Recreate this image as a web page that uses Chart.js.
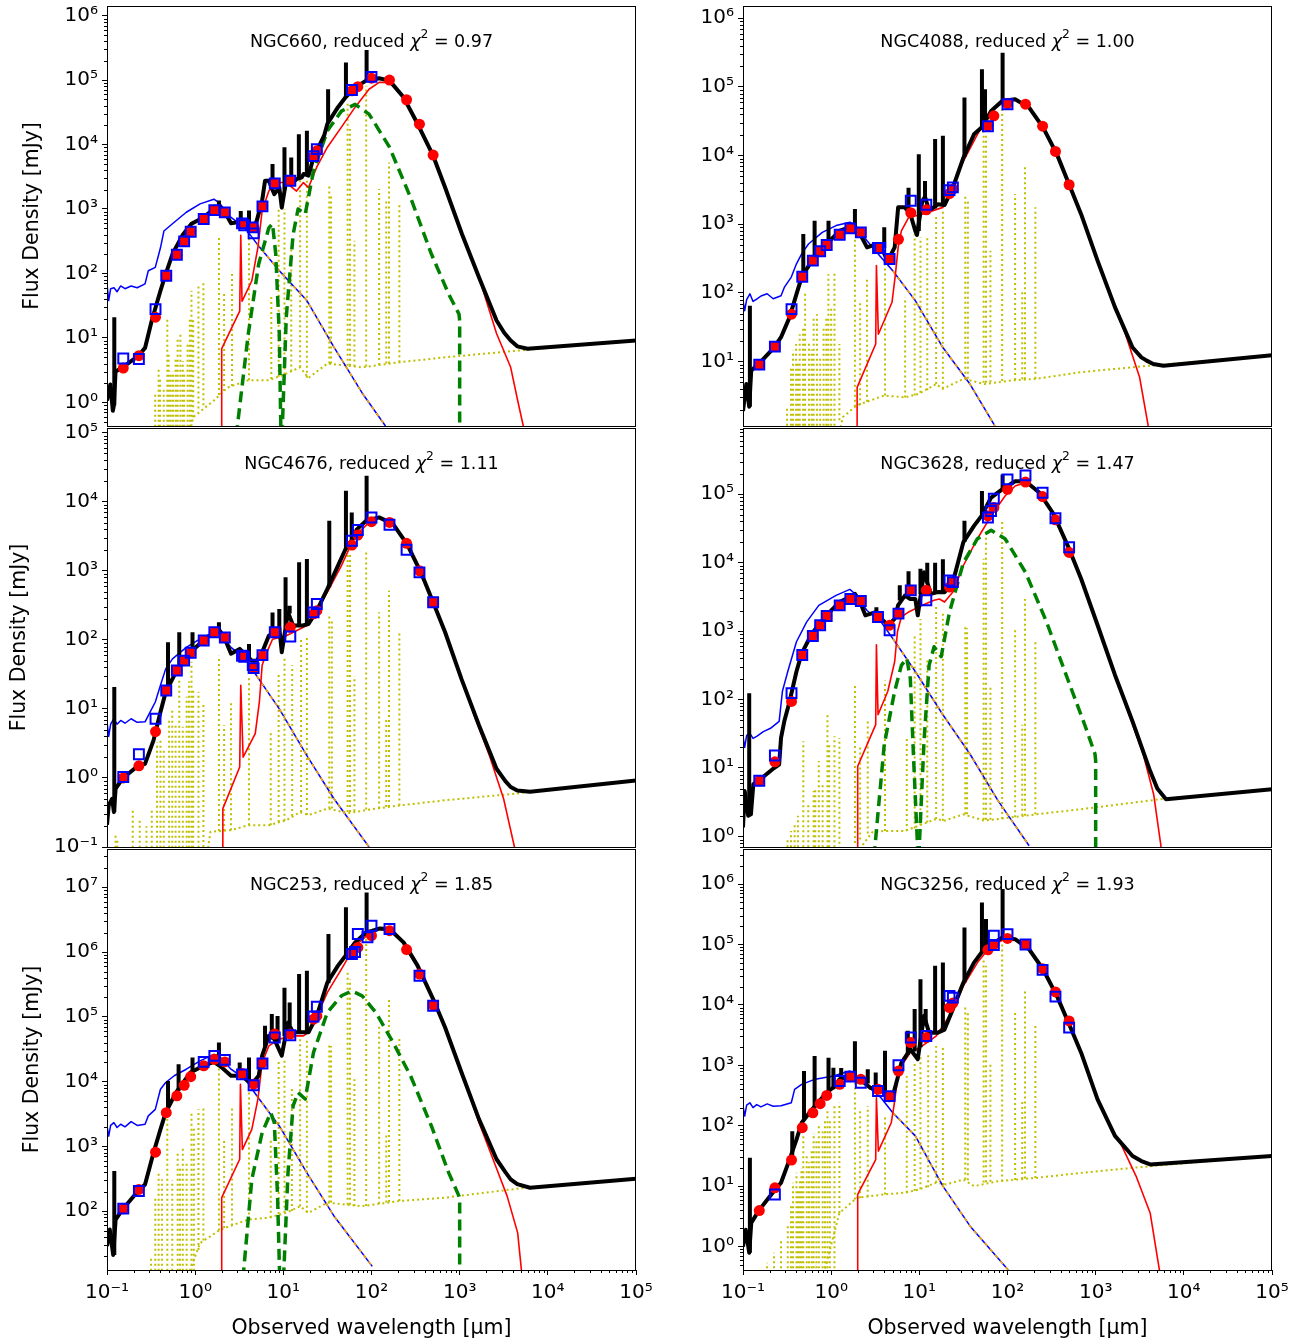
<!DOCTYPE html>
<html>
<head>
<meta charset="utf-8">
<script src="https://cdn.jsdelivr.net/npm/chart.js@4.4.1/dist/chart.umd.min.js"></script>
<style>
  body { margin: 0; background: #fff; width: 1309px; height: 1344px; position: relative; overflow: hidden; }
  canvas { position: absolute; }
</style>
</head>
<body>
<script>
// ---- shared values ----
const modelWl = [0.153, 0.23, 0.355, 0.47, 0.62, 0.75, 0.89, 1.25, 1.65, 2.17, 3.4, 4.6, 5.8, 8.0, 12, 22, 24, 60, 70, 100, 160, 250, 350, 500];
const xTickValues = [0.1, 1, 10, 100, 1e3, 1e4, 1e5];

// ---- NGC660 ----
const ngc660Total = [[0.1,1.07],[0.109,1.9],[0.1165,0.74],[0.1197,0.9],[0.125,3.0],[0.15,3.5],[0.225,5.2],[0.27,7],[0.322,18.6],[0.404,54],[0.463,98],[0.553,200],[0.724,400],[0.908,590],[1.24,740],[1.63,1000],[1.86,1100],[2.13,940],[2.55,600],[3.0,620],[3.6,640],[4.39,460],[5.0,660],[5.75,1350],[6.2,2750],[6.85,2750],[7.9,1700],[9.0,2150],[9.6,1050],[10.8,2800],[11.3,3100],[12.9,2600],[14.1,2900],[16.2,3100],[17.0,3500],[19.3,3300],[22,6300],[29,13700],[31.6,21000],[41.7,38000],[50.8,54000],[65.2,77000],[87,98000],[122,107000],[160,98000],[231,54000],[333,21000],[500,6700],[684,2150],[1064,405],[1655,87],[2620,18.6],[3200,12],[3790,9.1],[4500,7.4],[5880,6.8],[1e5,9.1]];
const ngc660TotalLines = [[0.121,0.9,21],[1.86,1000,1350],[3.29,630,930],[4.08,560,950],[7.54,2300,5000],[10.3,2000,9100],[12.3,2800,6300],[15.0,2900,14500],[18.5,3300,16300],[32.2,21000,72000],[51.3,54000,188000],[88,98000,293000]];
const ngc660Stars = [[0.1,69],[0.1045,38],[0.11,58],[0.12,60],[0.13,52],[0.143,64],[0.16,58],[0.1877,64],[0.22,60],[0.27,69],[0.294,110],[0.353,124],[0.404,250],[0.442,455],[0.553,590],[0.793,890],[1.137,1200],[1.63,1420],[1.86,1260],[2.55,740],[3.67,510],[5.0,290],[9.0,110],[18.5,38],[37.5,7.2],[78.3,1.4],[144,0.43]];
const ngc660StarsAtt = [[5.0,290],[9.0,110],[18.5,38],[37.5,7.2],[78.3,1.4],[144,0.43]];
const ngc660Dust = [[1.99,0.3],[2.0,6.8],[3.2,26],[3.29,390],[3.4,37],[4.39,77],[5.15,253],[5.75,940],[6.85,1900],[8.2,2570],[10.8,2570],[14.1,1900],[16.9,2570],[19.3,2150],[24,4500],[31.6,9100],[45.6,18600],[65.2,38000],[93.8,72000],[122,92000],[160,92000],[231,54000],[333,21000],[500,6700],[684,2150],[1064,405],[1655,87],[2620,11.7],[3790,3.5],[4550,1.07],[5580,0.3]];
const ngc660Agn1 = [[2.92,0.3],[4.0,11.5],[5.25,140],[6.85,510],[7.54,590],[8.2,200],[9.0,11.5],[9.4,0.3]];
const ngc660Agn2 = [[9.66,0.3],[10.8,21],[12.9,400],[14.7,1000],[17.7,830],[22,3900],[31.6,16300],[45.6,33000],[65.2,42000],[93.8,29700],[160,9100],[277,1510],[478,200],[750,48],[983,23.4],[1000,18.6],[1000,0.3]];
const ngc660NebCont = [[0.85,0.3],[0.95,0.59],[1.63,1.07],[2.33,1.7],[4.0,2.2],[6.85,2.2],[10.8,2.8],[15.5,3.5],[19.3,2.4],[31.6,4.0],[78.3,3.5],[210,4.2],[684,5],[5470,6.5],[1e5,9.1]];
const ngc660NebLines = [[0.352,0.1,1.43],[0.385,0.1,3.5],[0.4,0.1,2.5],[0.44,0.1,1.6],[0.483,0.1,21],[0.5,0.1,6],[0.528,0.1,3.0],[0.56,0.1,3],[0.6,0.1,5],[0.633,0.1,10.2],[0.68,0.1,12],[0.724,0.1,4.4],[0.75,0.1,3],[0.82,0.1,8],[0.87,0.1,20],[0.908,0.1,54],[0.95,0.59,21],[1.09,0.8,69],[1.24,0.9,73],[1.86,1.3,385],[2.13,1.5,48],[2.62,1.8,110],[4.08,2.2,408],[7.3,2.3,48],[8.85,2.5,1060],[10.3,2.7,1000],[12.3,3.0,270],[15.5,3.5,3480],[18.5,2.4,2750],[33.2,4.0,2440],[34.8,4.0,1610],[53.6,3.7,47700],[57,3.7,17400],[64,3.6,322],[87,3.6,81600],[122,3.8,2040],[147,4.0,1340],[158,4.0,5280],[207,4.2,1190]];
const ngc660Model = [3.4,5.3,21,92,195,314,444,698,962,885,598,519,1100,2500,2740,6470,8000,68000,79000,107000,100000,49500,20700,6870];
const ngc660Obs = [[0.153,4.8],[0.23,4.7],[0.355,28],[0.47,92],[0.62,195],[0.75,314],[0.89,444],[1.25,698],[1.65,962],[2.17,885],[3.4,598],[3.6,560],[4.5,519],[4.6,419],[5.8,1100],[8.0,2500],[12,2740],[22,6600],[24,8500],[60,70000],[100,112000]];

// ---- NGC4088 ----
const ngc4088Total = [[0.1,1.9],[0.109,4.7],[0.1176,2.2],[0.124,7.4],[0.15,9.2],[0.225,16],[0.27,22.6],[0.337,44],[0.404,96],[0.463,170],[0.605,295],[0.884,510],[1.24,800],[1.63,910],[2.13,720],[2.55,460],[3.2,510],[3.6,480],[4.39,295],[5.25,460],[5.75,1760],[6.85,1760],[7.9,1410],[9.0,800],[9.4,700],[10.8,2190],[11.6,2500],[12.9,1580],[16.2,1950],[19.3,1900],[24,3400],[31.6,9300],[41.7,20400],[50.8,25700],[65.2,44700],[87,62500],[122,66000],[176,50000],[253,25700],[363,10500],[500,3800],[684,1400],[1050,295],[1655,62],[2620,16],[3300,11.5],[3790,10.3],[4500,9.2],[5880,8.7],[1e5,12.3]];
const ngc4088TotalLines = [[0.1197,2.2,65],[0.483,200,720],[0.649,300,1120],[0.933,520,1120],[1.86,900,1660],[4.0,450,900],[7.54,1600,3400],[9.86,800,10500],[11.6,2200,4270],[15.1,1700,17400],[18.5,1900,19500],[32.5,9500,70000],[51.3,25700,181000],[55.6,28000,92500],[88,62500,316000]];
const ngc4088Stars = [[0.1,77],[0.1045,55],[0.11,80],[0.1197,97],[0.13,75],[0.143,81],[0.16,90],[0.1877,97],[0.22,82],[0.27,91],[0.294,120],[0.353,170],[0.404,265],[0.463,370],[0.553,515],[0.793,760],[1.137,955],[1.63,1070],[1.86,980],[2.55,575],[3.67,330],[5.0,210],[9.0,77],[18.5,16],[37.5,4.7],[72,1.15]];
const ngc4088StarsAtt = [[5.0,210],[9.0,77],[18.5,16],[37.5,4.7],[72,1.15]];
const ngc4088Dust = [[1.97,0.8],[1.97,4.2],[3.2,18],[3.26,250],[3.43,25],[4.9,73],[5.35,185],[5.75,460],[6.26,800],[7.54,1250],[10.8,1400],[18.5,1760],[31.6,8300],[45.6,20400],[65.2,44700],[93.8,62500],[122,66000],[176,50000],[253,25700],[363,10500],[500,3800],[684,1400],[1050,295],[1510,82],[2178,25],[3150,5.9],[4150,0.8]];
const ngc4088NebCont = [[1.2,0.8],[1.36,1.55],[1.95,2.3],[4.0,3.2],[6.9,3.0],[9.9,3.4],[15.5,4.7],[18.5,4.0],[31.8,5.6],[54.6,4.7],[112,5.3],[210,5.6],[676,7.0],[4100,8.7],[1e5,12.3]];
const ngc4088NebLines = [[0.316,0.5,2.2],[0.35,0.5,8],[0.369,0.5,14.5],[0.4,0.5,18],[0.42,0.5,10],[0.44,0.5,25],[0.48,0.5,30],[0.506,0.5,107],[0.56,0.5,20],[0.6,0.5,15],[0.633,0.5,44],[0.69,0.5,49],[0.75,0.5,12],[0.82,0.5,30],[0.88,0.5,44],[0.93,0.5,186],[1.0,0.5,60],[1.09,0.5,200],[1.24,1.4,18],[1.86,2.2,610],[2.13,2.3,77],[2.55,2.6,169],[4.08,3.2,263],[6.9,3.0,86],[8.85,3.2,720],[10.3,3.5,645],[12.3,3.8,645],[15.5,4.7,1330],[18.5,4.0,1570],[33.2,5.6,2750],[35.5,5.6,2200],[53.6,4.9,25700],[57,4.9,20600],[64,5.0,410],[87,5.2,56000],[122,5.4,2750],[147,5.5,107],[158,5.5,7500],[207,5.6,1760]];
const ngc4088Model = [9.0,16.5,49,172,295,403,498,703,870,760,450,311,603,1470,1620,2800,3240,27100,37900,57200,56000,26800,11500,3760];
const ngc4088Obs = [[0.153,9.0],[0.23,16.5],[0.355,58],[0.47,172],[0.62,295],[0.75,403],[0.89,498],[1.25,703],[1.65,870],[2.17,760],[3.4,450],[3.6,450],[4.6,311],[8.0,2200],[12,1920],[22,3140],[24,3440],[60,26800],[100,56000]];

// ---- NGC4676 ----
const ngc4676Total = [[0.1,0.21],[0.1045,0.40],[0.1145,0.5],[0.1197,0.32],[0.1253,0.7],[0.15,0.98],[0.225,1.5],[0.27,1.6],[0.337,3.5],[0.404,9],[0.463,17.5],[0.605,34],[0.884,66],[1.24,98],[1.63,129],[1.86,140],[2.13,110],[2.55,63],[3.2,74],[4.39,50],[5.0,50],[5.75,66],[6.85,115],[7.95,129],[9.0,150],[9.6,66],[11.3,250],[12.9,161],[16.2,161],[19.3,170],[24,265],[31.6,546],[41.7,1190],[50.8,2070],[61.3,2880],[68.2,3980],[87,5310],[122,5930],[176,4750],[253,2440],[363,950],[500,350],[684,129],[1050,27],[1655,5.8],[2620,1.36],[3300,0.9],[3790,0.74],[4500,0.66],[6280,0.63],[1e5,0.92]];
const ngc4676TotalLines = [[0.121,0.32,20.7],[0.492,20,92],[0.66,40,129],[0.933,70,129],[1.86,135,180],[4.08,55,87],[7.54,120,250],[9.0,140,280],[10.6,150,805],[11.8,240,313],[15.1,161,1330],[18.5,165,1480],[33.2,580,5310],[51.3,2070,14400],[59.7,2800,7000],[88,5310,23800]];
const ngc4676Stars = [[0.1,6.5],[0.1045,4.0],[0.11,6.0],[0.1197,7.2],[0.13,6.0],[0.143,6.8],[0.16,6.2],[0.1877,7.2],[0.22,6.4],[0.27,6.5],[0.308,9],[0.353,12.6],[0.404,22],[0.463,38],[0.553,53],[0.793,78],[1.137,103],[1.63,129],[1.86,122],[2.55,78],[3.67,53],[5.0,30],[9.0,10],[18.5,2.1],[37.5,0.5],[93.8,0.1]];
const ngc4676StarsAtt = [[5.0,30],[9.0,10],[18.5,2.1],[37.5,0.5],[93.8,0.1]];
const ngc4676Dust = [[2.04,0.05],[2.06,0.36],[3.2,1.44],[3.29,22],[3.5,2.0],[4.8,4.4],[5.35,12.6],[5.75,43],[6.26,59],[7.54,102],[10.8,115],[18.5,161],[31.6,490],[45.6,1190],[65.2,3240],[93.8,5000],[122,5800],[176,4750],[253,2440],[363,950],[500,350],[684,129],[1050,27],[1510,7.2],[2178,2.1],[3150,0.5],[4350,0.08]];
const ngc4676NebCont = [[1.3,0.05],[1.49,0.166],[2.55,0.175],[4.0,0.207],[6.85,0.207],[10.8,0.244],[15.5,0.32],[19.3,0.29],[31.6,0.36],[54.6,0.31],[112,0.36],[210,0.4],[684,0.475],[4150,0.59],[6280,0.63],[1e5,0.92]];
const ngc4676NebLines = [[0.125,0.05,0.15],[0.131,0.05,0.13],[0.196,0.05,0.36],[0.235,0.05,0.24],[0.28,0.05,0.2],[0.322,0.05,0.36],[0.369,0.05,3.3],[0.404,0.05,3.7],[0.44,0.05,2.5],[0.506,0.05,7.2],[0.55,0.05,10],[0.6,0.05,6],[0.66,0.05,27],[0.724,0.05,5.5],[0.8,0.05,15],[0.85,0.05,25],[0.908,0.05,48],[0.95,0.05,19.5],[1.09,0.05,17.5],[1.24,0.1,12.6],[1.86,0.17,59],[2.13,0.17,5.8],[2.55,0.175,12.6],[4.08,0.207,30],[7.2,0.207,4.6],[8.85,0.23,32],[10.3,0.24,59],[12.6,0.28,43],[15.9,0.32,103],[18.5,0.29,115],[33.2,0.36,224],[35.5,0.36,200],[53.6,0.32,1950],[57,0.32,1860],[64,0.33,30],[87,0.35,1950],[122,0.36,251],[147,0.38,7.2],[158,0.38,516],[207,0.4,129]];
const ngc4676Model = [1.0,1.5,4.7,18.5,36,50,65,98,129,108,59,39,59,129,152,238,265,2360,3300,5140,5020,2500,1000,350];
const ngc4676Obs = [[0.153,1.03],[0.23,2.2],[0.355,7.2],[0.47,18.5],[0.62,36],[0.75,50],[0.89,65],[1.25,98],[1.65,129],[2.17,108],[3.4,59],[3.6,57],[4.5,43],[4.6,39],[5.8,60],[8.0,129],[12,112],[22,250],[24,330],[60,2730],[70,3890],[100,5930],[160,4640],[250,2020],[350,950],[500,350]];

// ---- NGC3628 ----
const ngc3628Total = [[0.1,1.35],[0.1045,4.6],[0.1145,2.0],[0.123,2.1],[0.131,5.8],[0.15,6.5],[0.225,10],[0.257,11.2],[0.27,27.5],[0.294,48],[0.337,93],[0.404,257],[0.463,473],[0.605,922],[0.884,1700],[1.24,2660],[1.63,3160],[1.86,3500],[2.13,2660],[2.44,1700],[3.2,1900],[3.4,1700],[4.39,1220],[5.25,1510],[5.75,2400],[6.85,3300],[7.9,2950],[9.0,2950],[9.6,1700],[11.3,7240],[13.5,3500],[16.2,3720],[19.3,3700],[24,5200],[31.6,20000],[41.7,34500],[50.8,48400],[65.2,89600],[87,118000],[122,155000],[160,155000],[231,105000],[333,51500],[500,15900],[684,5820],[1050,1230],[1655,229],[2620,48],[4150,9],[5000,5],[6280,3.5],[1e5,4.9]];
const ngc3628TotalLines = [[0.1176,2.0,124],[3.26,1800,2240],[6.0,2800,4700],[7.54,3200,7500],[10.3,3500,8130],[12.3,5000,10000],[15.1,3600,10000],[18.5,3700,11200],[32.5,20000,41000],[51.3,48400,112000],[88,118000,195000]];
const ngc3628Stars = [[0.1,29],[0.1045,20],[0.11,30],[0.1197,32],[0.13,27],[0.143,29],[0.17,34],[0.205,38],[0.257,48],[0.28,132],[0.322,257],[0.404,700],[0.528,1365],[0.724,2380],[1.137,3330],[1.63,4070],[1.86,3520],[2.55,2000],[3.67,1365],[5.0,780],[9.0,257],[18.5,60],[37.5,16],[78.3,3.3],[176,0.73]];
const ngc3628StarsAtt = [[5.0,780],[9.0,257],[18.5,60],[37.5,16],[78.3,3.3],[176,0.73]];
const ngc3628Dust = [[2.0,0.5],[2.0,10.6],[3.2,43],[3.26,630],[3.4,60],[4.39,132],[5.25,357],[5.65,980],[6.26,1620],[7.54,1900],[10.8,2380],[14.7,2820],[16.9,2950],[19.3,2660],[24,3720],[31.6,9100],[45.6,22400],[65.2,48400],[93.8,94500],[122,132000],[160,148000],[231,105000],[333,51500],[500,15900],[684,5820],[1050,1230],[1655,229],[2390,60],[3456,16],[4550,4.1],[5730,0.5]];
const ngc3628Agn1 = [[3.06,0.5],[4.0,22],[5.25,132],[6.26,316],[7.2,400],[7.9,204],[8.6,14],[9.66,0.5]];
const ngc3628Agn2 = [[9.86,0.5],[11.3,24.5],[12.9,316],[14.7,590],[17.7,424],[22,1900],[31.6,10000],[45.6,22400],[65.2,29800],[93.8,22400],[160,7240],[277,1365],[478,204],[750,43],[983,16],[1000,12.6],[1000,0.5]];
const ngc3628NebCont = [[1.8,0.5],[2.92,1.15],[4.0,1.2],[6.85,1.2],[10.8,1.5],[15.5,1.8],[19.3,1.7],[31.6,2.1],[54.6,1.7],[112,1.9],[210,2.1],[684,2.5],[5470,3.5],[1e5,4.9]];
const ngc3628NebLines = [[0.32,0.3,0.9],[0.35,0.3,1.2],[0.385,0.3,1.5],[0.42,0.3,2.0],[0.483,0.3,24.5],[0.55,0.3,3],[0.633,0.3,4.6],[0.66,0.3,5.0],[0.724,0.3,12.6],[0.8,0.3,6],[0.908,0.3,63],[0.95,0.3,22],[1.09,0.3,29],[1.24,0.4,27.5],[1.86,0.8,163],[2.13,0.9,22],[2.6,1.1,50],[4.08,1.2,190],[7.2,1.2,29],[8.85,1.3,920],[10.3,1.45,1510],[12.3,1.6,400],[15.5,1.8,2380],[18.5,1.7,1900],[33.2,2.1,1220],[34.8,2.1,1100],[53.6,1.75,11400],[57,1.75,27600],[64,1.75,164],[87,1.8,43400],[122,1.9,1100],[147,2.0,43],[158,2.0,2950],[207,2.1,700]];
const ngc3628Model = [6.5,12.3,94,447,850,1220,1660,2380,2950,2750,1610,1220,1800,3940,3940,4400,5200,48400,64000,118000,151000,92500,42400,14100];
const ngc3628Obs = [[0.153,6.5],[0.23,15.2],[0.355,124],[0.47,447],[0.62,850],[0.75,1220],[0.89,1660],[1.25,2380],[1.65,2950],[2.17,2750],[3.4,1610],[4.6,1030],[5.8,1800],[8.0,3940],[12,2820],[22,5500],[24,5200],[60,45700],[65,57000],[70,86500],[100,165000],[160,189000],[250,105000],[350,44700],[500,16800]];

// ---- NGC253 ----
const ngc253Total = [[0.1,28.8],[0.1075,52],[0.1176,21],[0.1253,74],[0.15,106],[0.225,204],[0.27,257],[0.337,794],[0.404,1830],[0.463,3310],[0.605,6760],[0.884,13800],[1.24,17500],[1.63,20100],[1.95,17000],[2.55,12300],[3.35,12300],[4.39,9100],[5.25,12300],[5.75,25100],[6.85,50800],[7.9,45200],[9.6,25100],[11.3,81300],[12.9,57500],[16.2,57500],[19.3,57500],[24,103000],[31.6,339000],[41.7,617000],[50.8,877000],[65.2,1.41e6],[87,2.0e6],[122,2.3e6],[160,2.27e6],[231,1.41e6],[333,617000],[500,188000],[684,68400],[1050,13800],[1655,2630],[2620,631],[3300,400],[3790,309],[4500,260],[6280,229],[1e5,316]];
const ngc253TotalLines = [[0.121,21,417],[0.492,3500,10200],[0.649,7200,18500],[0.933,14000,23500],[1.86,19000,40000],[3.2,12300,19700],[4.08,10000,23500],[6.2,35000,72400],[7.4,48000,110000],[8.6,40000,103000],[10.3,50000,282000],[11.8,75000,166000],[15.1,57500,457000],[18.5,57500,513000],[32.5,330000,1.9e6],[51.3,877000,4.9e6],[88,2.0e6,8.3e6]];
const ngc253Stars = [[0.1,2060],[0.1045,1440],[0.11,2100],[0.1197,2320],[0.13,1950],[0.143,2190],[0.16,2000],[0.1877,2400],[0.22,2100],[0.27,2190],[0.294,2950],[0.353,3720],[0.404,7590],[0.463,9660],[0.578,12300],[0.793,15500],[1.137,20900],[1.63,26300],[1.86,25100],[2.55,15500],[3.67,11000],[5.0,6030],[9.0,2060],[18.5,390],[37.5,84],[102,14]];
const ngc253StarsAtt = [[5.0,6030],[9.0,2060],[18.5,390],[37.5,84],[102,14]];
const ngc253Dust = [[2.0,5],[2.0,161],[3.2,631],[3.26,9100],[3.43,891],[4.39,1830],[5.15,5370],[5.75,19500],[6.85,35500],[9.0,45200],[12.9,50800],[16.9,50800],[19.3,57500],[24,103000],[31.6,238000],[45.6,546000],[65.2,1.26e6],[93.8,1.9e6],[122,2.27e6],[176,2.05e6],[231,1.41e6],[333,617000],[500,188000],[684,68400],[1050,13800],[1655,2340],[2390,631],[3456,170],[4550,46],[5360,5]];
const ngc253Agn1 = [[3.35,5],[4.39,309],[5.75,1620],[7.2,3310],[7.9,2320],[8.6,170],[9.2,5]];
const ngc253Agn2 = [[9.86,5],[11.3,392],[12.9,4200],[14.7,6760],[17.7,5370],[22,28200],[31.6,117000],[45.6,211000],[59.7,251000],[78.3,211000],[112,117000],[176,40000],[277,12300],[478,2060],[750,392],[983,170],[1000,150],[1000,5]];
const ngc253NebCont = [[0.87,12],[1.137,32],[1.95,52],[4.0,74],[6.85,79],[10.8,94],[15.5,119],[19.3,94],[31.6,135],[78.3,119],[210,143],[684,161],[5470,229],[1e5,316]];
const ngc253NebLines = [[0.316,10,20],[0.353,10,170],[0.385,10,417],[0.42,10,309],[0.483,10,2630],[0.55,10,300],[0.633,10,794],[0.673,10,500],[0.724,10,1000],[0.8,10,600],[0.908,10,3310],[0.967,10,2000],[1.09,25,3720],[1.24,35,4200],[1.86,50,17500],[2.13,55,1290],[2.62,60,3980],[4.08,74,7590],[7.2,79,1290],[8.85,90,22100],[10.3,94,22100],[12.5,100,8510],[15.5,119,50800],[18.5,94,45200],[33.2,135,40000],[34.8,135,35500],[53.6,125,485000],[57,125,380000],[64,120,10900],[87,120,2.3e6],[122,130,72400],[147,135,1580],[158,138,186000],[207,143,45200]];
const ngc253Model = [109,216,813,3310,6030,8770,11900,17500,22100,20100,13300,9100,19500,54000,54000,92000,103000,933000,1.18e6,1.79e6,2.14e6,1.09e6,457000,151000];
const ngc253Obs = [[0.153,109],[0.23,204],[1.25,20100],[1.65,24900],[2.17,21600],[3.4,12900],[4.6,8770],[5.8,19000],[8.0,47900],[12,52000],[22,101000],[24,143000],[60,933000],[65,1.0e6],[70,1.9e6],[90,1.69e6],[100,2.55e6],[160,2.27e6],[350,431000],[500,148000]];

// ---- NGC3256 ----
const ngc3256Total = [[0.1,1.0],[0.1075,1.9],[0.1176,0.79],[0.124,2.45],[0.15,3.9],[0.225,8.3],[0.27,11.4],[0.337,27.5],[0.404,59],[0.463,112],[0.605,186],[0.884,352],[1.1,450],[1.24,586],[1.63,665],[1.95,586],[2.13,586],[2.79,420],[3.35,420],[4.39,320],[5.0,309],[5.75,665],[6.26,1100],[7.9,1840],[9.6,1260],[11.3,6580],[12.9,3470],[16.2,3470],[19.3,3900],[24,8510],[31.6,23400],[41.7,50100],[50.8,73600],[65.2,100000],[87,130000],[122,122000],[176,83000],[253,38900],[363,14100],[500,4790],[684,1620],[1050,273],[1655,68],[2620,31.6],[3300,26],[4150,22.9],[1e5,31.6]];
const ngc3256TotalLines = [[0.1197,0.79,29.5],[0.362,30,81],[0.492,130,805],[0.649,200,1430],[0.933,360,1340],[1.06,400,914],[1.3,600,900],[1.86,620,2510],[2.6,500,860],[3.2,400,760],[4.08,320,1740],[7.4,1500,3720],[8.85,1700,8510],[10.3,2000,26600],[11.8,5000,8510],[15.1,3470,44300],[18.5,3800,50100],[32.5,23400,190000],[51.3,73600,497000],[57,80000,263000],[88,130000,826000]];
const ngc3256Stars = [[0.1,214],[0.1045,145],[0.11,220],[0.1197,240],[0.13,200],[0.143,224],[0.16,205],[0.1877,230],[0.22,210],[0.27,214],[0.353,240],[0.385,400],[0.463,484],[0.66,590],[1.06,665],[1.63,805],[1.86,665],[2.55,454],[3.67,291],[5.0,164],[9.0,68],[18.5,10],[37.5,2.2],[102,0.41]];
const ngc3256StarsAtt = [[5.0,164],[9.0,68],[18.5,10],[37.5,2.2],[102,0.41]];
const ngc3256Dust = [[2.0,0.3],[2.0,7.3],[3.2,27.5],[3.26,291],[3.43,38],[4.8,112],[5.15,212],[5.65,586],[6.26,980],[7.9,1620],[10.8,2090],[15.5,3050],[24,7940],[31.6,20700],[45.6,50100],[65.2,95500],[93.8,123000],[122,122000],[176,83000],[253,38900],[363,14100],[500,4790],[684,1620],[1050,273],[1400,112],[1985,46],[2870,14.7],[4150,3.6],[5470,0.3]];
const ngc3256NebCont = [[0.8,0.3],[1.24,3.6],[1.95,6.4],[4.0,7.3],[6.9,7.8],[9.9,8.8],[15.5,11.4],[20.2,10.7],[31.6,12.9],[41.7,10],[78.3,12.1],[210,13.7],[684,16.6],[4150,21.4],[1e5,31.6]];
const ngc3256NebLines = [[0.1877,0.3,0.54],[0.225,0.3,0.79],[0.27,0.3,1.3],[0.322,0.3,2.2],[0.35,0.3,5],[0.369,0.3,11.4],[0.404,0.3,16.6],[0.42,0.3,9],[0.442,0.3,12.6],[0.46,0.3,20],[0.483,0.3,68],[0.528,0.3,35],[0.56,0.3,25],[0.6,0.3,40],[0.633,0.3,76],[0.68,0.3,60],[0.724,0.3,99],[0.8,0.3,80],[0.85,0.3,120],[0.908,0.3,186],[0.967,0.3,120],[1.09,0.3,212],[1.24,3.6,240],[1.86,6.0,586],[2.13,6.3,186],[2.6,6.7,212],[4.08,7.3,145],[7.2,7.8,665],[8.85,8.3,1100],[10.3,8.9,1430],[12.6,9.6,1620],[15.5,11.4,2090],[18.5,10.5,2090],[33.2,12.9,9620],[35.5,12.5,7410],[53.6,11.5,57100],[57,11.6,44300],[64,11.8,1040],[87,12,108000],[122,12.6,7410],[147,13.2,273],[158,13.4,18200],[207,13.7,4490]];
const ngc3256Model = [3.95,9.4,27,93,164,232,318,484,649,586,400,302,805,2380,2880,9040,10700,81600,100000,126000,100000,39800,16400,5430];
const ngc3256Obs = [[0.23,7.3],[1.25,550],[1.65,649],[2.17,516],[3.4,376],[4.6,309],[5.8,1000],[8.0,2880],[12,3060],[22,14100],[24,13200],[70,139000],[70,98000],[100,148000],[160,100000],[250,38000],[350,13700],[500,4210]];

// ---- panel layout ----
const panels = [
  { name: 'NGC660',  chi2: '0.97', col: 0, row: 0, yMin: 0.43, yMax: 1.41e6, total: ngc660Total,  totalLines: ngc660TotalLines,  stars: ngc660Stars,  starsAtt: ngc660StarsAtt,  dust: ngc660Dust,  agn: [ngc660Agn1, ngc660Agn2],   nebCont: ngc660NebCont,  nebLines: ngc660NebLines,  model: ngc660Model,  obs: ngc660Obs },
  { name: 'NGC4088', chi2: '1.00', col: 1, row: 0, yMin: 1.15, yMax: 1.51e6, total: ngc4088Total, totalLines: ngc4088TotalLines, stars: ngc4088Stars, starsAtt: ngc4088StarsAtt, dust: ngc4088Dust, agn: [],                         nebCont: ngc4088NebCont, nebLines: ngc4088NebLines, model: ngc4088Model, obs: ngc4088Obs },
  { name: 'NGC4676', chi2: '1.11', col: 0, row: 1, yMin: 0.1,  yMax: 1.17e5, total: ngc4676Total, totalLines: ngc4676TotalLines, stars: ngc4676Stars, starsAtt: ngc4676StarsAtt, dust: ngc4676Dust, agn: [],                         nebCont: ngc4676NebCont, nebLines: ngc4676NebLines, model: ngc4676Model, obs: ngc4676Obs },
  { name: 'NGC3628', chi2: '1.47', col: 1, row: 1, yMin: 0.72, yMax: 9.3e5,  total: ngc3628Total, totalLines: ngc3628TotalLines, stars: ngc3628Stars, starsAtt: ngc3628StarsAtt, dust: ngc3628Dust, agn: [ngc3628Agn1, ngc3628Agn2], nebCont: ngc3628NebCont, nebLines: ngc3628NebLines, model: ngc3628Model, obs: ngc3628Obs },
  { name: 'NGC253',  chi2: '1.85', col: 0, row: 2, yMin: 12.3, yMax: 3.9e7,  total: ngc253Total,  totalLines: ngc253TotalLines,  stars: ngc253Stars,  starsAtt: ngc253StarsAtt,  dust: ngc253Dust,  agn: [ngc253Agn1, ngc253Agn2],   nebCont: ngc253NebCont,  nebLines: ngc253NebLines,  model: ngc253Model,  obs: ngc253Obs },
  { name: 'NGC3256', chi2: '1.93', col: 1, row: 2, yMin: 0.41, yMax: 3.8e6,  total: ngc3256Total, totalLines: ngc3256TotalLines, stars: ngc3256Stars, starsAtt: ngc3256StarsAtt, dust: ngc3256Dust, agn: [],                         nebCont: ngc3256NebCont, nebLines: ngc3256NebLines, model: ngc3256Model, obs: ngc3256Obs },
];

const colLeft = [107, 743], colRight = [636, 1272];
const rowTop = [5, 427, 848], rowBottom = [427, 848, 1270];
const AXIS_W = 100, PAD_T = 15, PAD_B = 15, PAD_R = 25, X_AXIS_H = 74;
const FONT = "'DejaVu Sans'";

Chart.defaults.font.family = FONT;
Chart.defaults.color = '#000';

const SUP = { '-': '\u207b', '0': '\u2070', '1': '\u00b9', '2': '\u00b2', '3': '\u00b3', '4': '\u2074', '5': '\u2075', '6': '\u2076', '7': '\u2077', '8': '\u2078', '9': '\u2079' };
const powLabel = v => '10' + String(Math.round(Math.log10(v))).split('').map(c => SUP[c]).join('');
const decades = (min, max) => {
  const out = [];
  for (let k = Math.ceil(Math.log10(min) - 1e-9); k <= Math.floor(Math.log10(max) + 1e-9); k++) out.push({ value: Number('1e' + k) });
  return out;
};

const pts = arr => arr.map(([x, y]) => ({ x, y }));
const spikes = arr => arr.flatMap(([w, b, t]) => [{ x: w, y: b }, { x: w, y: t }, { x: w, y: null }]);

const line = (data, color, width, dash, order) => ({
  data, borderColor: color, backgroundColor: color, borderWidth: width, borderDash: dash,
  showLine: true, pointRadius: 0, pointHoverRadius: 0, tension: 0, spanGaps: false, clip: 0, order,
  borderJoinStyle: 'round'
});

// frame, minor ticks and the in-panel title
const panelDecor = {
  id: 'panelDecor',
  afterDraw(chart, args, o) {
    const { ctx, chartArea: a, scales } = chart;
    ctx.save();
    ctx.strokeStyle = '#000';
    ctx.lineWidth = 1;
    ctx.strokeRect(a.left + 0.5, a.top + 0.5, a.right - a.left - 1, a.bottom - a.top);

    const minor = (scale, horizontal) => {
      const lo = Math.floor(Math.log10(scale.min)), hi = Math.ceil(Math.log10(scale.max));
      for (let k = lo; k <= hi; k++) {
        for (let m = 2; m <= 9; m++) {
          const v = m * Math.pow(10, k);
          if (v < scale.min || v > scale.max) continue;
          const p = Math.round(scale.getPixelForValue(v)) + 0.5;
          ctx.beginPath();
          if (horizontal) { ctx.moveTo(p, a.bottom); ctx.lineTo(p, a.bottom + 3); }
          else { ctx.moveTo(a.left, p); ctx.lineTo(a.left - 3, p); }
          ctx.stroke();
        }
      }
    };
    minor(scales.y, false);
    if (o.xMinor) minor(scales.x, true);

    const fs = 17.5;
    const parts = [
      [o.name + ', reduced ', `${fs}px ${FONT}`, 0],
      ['\u03c7', `italic ${fs}px ${FONT}`, 0],
      ['2', `${(fs * 0.7).toFixed(1)}px ${FONT}`, -fs * 0.42],
      [' = ' + o.chi2, `${fs}px ${FONT}`, 0]
    ];
    let total = 0;
    parts.forEach(p => { ctx.font = p[1]; total += ctx.measureText(p[0]).width; });
    let x = (a.left + a.right) / 2 - total / 2;
    const y = a.top + 36;
    ctx.fillStyle = '#000';
    ctx.textBaseline = 'middle';
    ctx.textAlign = 'left';
    parts.forEach(p => { ctx.font = p[1]; ctx.fillText(p[0], x, y + p[2]); x += ctx.measureText(p[0]).width; });
    ctx.restore();
  }
};
Chart.register(panelDecor);

panels.forEach(p => {
  const left = colLeft[p.col], right = colRight[p.col];
  const top = rowTop[p.row], bottom = rowBottom[p.row];
  const isBottom = p.row === 2;
  const w = AXIS_W + (right - left) + PAD_R;
  const h = PAD_T + (bottom - top) + (isBottom ? X_AXIS_H : PAD_B);
  const cv = document.createElement('canvas');
  cv.width = w; cv.height = h;
  cv.style.left = (left - AXIS_W) + 'px';
  cv.style.top = (top - PAD_T) + 'px';
  cv.style.width = w + 'px';
  cv.style.height = h + 'px';
  document.body.appendChild(cv);

  const datasets = [
    line(pts(p.nebCont), '#bfbf00', 2, [2, 3], 9),
    line(spikes(p.nebLines), '#bfbf00', 2, [2, 3], 8),
    line(pts(p.stars), '#0000ff', 1.5, [], 7),
    line(pts(p.starsAtt), '#ffa500', 1.5, [4, 4], 6),
    line(pts(p.dust), '#ff0000', 1.6, [], 5),
    ...p.agn.map(a => line(pts(a), '#008000', 3.5, [11, 6], 4)),
    line(pts(p.total), '#000000', 4, [], 3),
    line(spikes(p.totalLines), '#000000', 4, [], 3),
    { data: modelWl.map((x, i) => ({ x, y: p.model[i] })), showLine: false, pointStyle: 'circle', pointRadius: 5.5,
      pointBackgroundColor: '#ff0000', pointBorderWidth: 0, pointBorderColor: '#ff0000', order: 2 },
    { data: pts(p.obs), showLine: false, pointStyle: 'rect', pointRadius: 7,
      pointBackgroundColor: 'rgba(0,0,0,0)', pointBorderColor: '#0000ff', pointBorderWidth: 2, order: 1 }
  ];

  const gridOpts = { display: true, drawOnChartArea: false, drawTicks: true, tickLength: 5, color: '#000', tickColor: '#000', lineWidth: 1 };

  new Chart(cv, {
    type: 'scatter',
    data: { datasets },
    options: {
      responsive: false,
      animation: false,
      devicePixelRatio: 1,
      events: [],
      layout: { padding: { top: PAD_T, right: PAD_R, bottom: isBottom ? 0 : PAD_B, left: 0 } },
      plugins: {
        legend: { display: false },
        tooltip: { enabled: false },
        panelDecor: { name: p.name, chi2: p.chi2, xMinor: isBottom }
      },
      scales: {
        x: {
          type: 'logarithmic', min: 0.1, max: 1e5, display: isBottom,
          afterFit: s => { s.height = isBottom ? X_AXIS_H : 0; },
          afterBuildTicks: s => { s.ticks = xTickValues.map(v => ({ value: v })); },
          ticks: { callback: v => powLabel(v), font: { size: 20 }, color: '#000', padding: 6, autoSkip: false, maxRotation: 0 },
          grid: gridOpts,
          border: { display: false },
          title: { display: true, text: 'Observed wavelength [\u03bcm]', font: { size: 20.5 }, color: '#000', padding: { top: 0, bottom: 3 } }
        },
        y: {
          type: 'logarithmic', min: p.yMin, max: p.yMax, position: 'left',
          afterFit: s => { s.width = AXIS_W; },
          afterBuildTicks: s => { s.ticks = decades(p.yMin, p.yMax); },
          ticks: { callback: v => powLabel(v), font: { size: 20 }, color: '#000', padding: 4, autoSkip: false },
          grid: gridOpts,
          border: { display: false },
          title: { display: p.col === 0, text: 'Flux Density [mJy]', font: { size: 20.5 }, color: '#000', padding: { top: p.row === 1 ? 0 : 13, bottom: 0 } }
        }
      }
    }
  });
});
</script>
</body>
</html>
